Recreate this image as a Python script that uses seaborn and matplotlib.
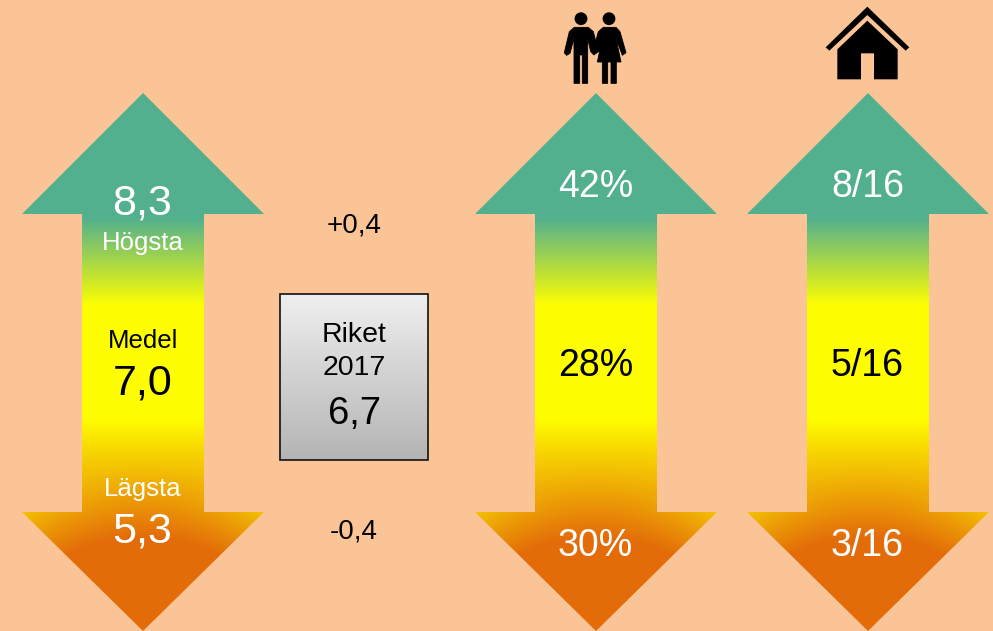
import numpy as np
import matplotlib
matplotlib.use("Agg")
import matplotlib.pyplot as plt
from matplotlib.patches import Polygon, Circle, Rectangle
import seaborn as sns

# --- data ---
high_values = ["8,3", "42%", "8/16"]
mid_values = ["7,0", "28%", "5/16"]
low_values = ["5,3", "30%", "3/16"]
row_labels = ["Högsta", "Medel", "Lägsta"]
national_title = ["Riket", "2017"]
national_value = "6,7"
national_diffs = ["+0,4", "-0,4"]

BG = "#FBC497"
GREEN, YELLOW, ORANGE = "#53B08E", "#FFFF00", "#E36C09"

sns.set_theme(style="white", rc={"figure.facecolor": BG, "axes.facecolor": BG})
plt.rcParams["font.family"] = ["Liberation Sans", "DejaVu Sans"]

W, H = 993, 631
fig = plt.figure(figsize=(W / 100, H / 100), dpi=100, facecolor=BG)
ax = fig.add_axes([0, 0, 1, 1])
ax.set_xlim(0, W)
ax.set_ylim(H, 0)
ax.axis("off")

cmap = sns.blend_palette([GREEN, YELLOW, ORANGE], n_colors=256, as_cmap=True)
grey = sns.blend_palette(["#EFEFEF", "#B4B4B4"], n_colors=256, as_cmap=True)


def arrow(cx):
    top, hb, lb, tip = 93, 214, 512, 631
    sw, hw = 61, 121
    pts = [(cx, top), (cx + hw, hb), (cx + sw, hb), (cx + sw, lb), (cx + hw, lb), (cx, tip),
           (cx - hw, lb), (cx - sw, lb), (cx - sw, hb), (cx - hw, hb)]
    xs = np.arange(cx - hw, cx + hw + 1)
    ys = np.arange(top, tip + 1)
    X, Y = np.meshgrid(xs, ys)
    d = np.abs(X - cx) / hw
    up = np.clip((Y - 218) / 88, 0, 1)
    shift = 45 * d ** 2 * np.clip((Y - 450) / 60, 0, 1)
    down = np.clip((Y - 418 - shift) / 120, 0, 1)
    t = 0.5 * up + 0.5 * down
    im = ax.imshow(t, cmap=cmap, vmin=0, vmax=1, aspect="auto", interpolation="bilinear",
                   extent=(cx - hw, cx + hw, tip, top), zorder=2)
    patch = Polygon(pts, closed=True, fc="none", ec="none", transform=ax.transData)
    ax.add_patch(patch)
    im.set_clip_path(patch)


centers = [143, 596, 868]
for c in centers:
    arrow(c)
ax.set_xlim(0, W)
ax.set_ylim(H, 0)


def txt(x, y, s, size, color="black"):
    ax.text(x, y, s, fontsize=size, color=color, ha="center", va="center", zorder=5)


# left arrow
txt(142.5, 203, high_values[0], 31, "white")
txt(143, 243, row_labels[0], 18.5, "white")
txt(143, 341, row_labels[1], 18.5)
txt(142.5, 383, mid_values[0], 31)
txt(143, 489, row_labels[2], 18.5, "white")
txt(142.5, 531, low_values[0], 31, "white")

# right arrows
for i, c in enumerate(centers[1:], start=1):
    txt(c - 0.5, 187, high_values[i], 27, "white")
    txt(c - 0.5, 366, mid_values[i], 27)
    txt(c - 0.5, 546, low_values[i], 27, "white")

# national box
g = np.linspace(0, 1, 200).reshape(-1, 1)
ax.imshow(g, cmap=grey, vmin=0, vmax=1, aspect="auto", extent=(280, 428, 460, 294), zorder=2)
ax.add_patch(Rectangle((280, 294), 148, 166, fc="none", ec="#111111", lw=1.2, zorder=3))
txt(354.5, 335, national_title[0], 20.5)
txt(354, 368, national_title[1], 20.5)
txt(354, 414, national_value, 27.5)
txt(354, 226, national_diffs[0], 20)
txt(354, 532, national_diffs[1], 20)


# icons (traced in 3x crop coordinates, origin x=540)
def z(p):
    return [(540 + a / 3, b / 3) for a, b in p]


man = [(103, 82), (145, 82), (160, 95), (174, 150), (162, 165), (152, 155), (143, 115), (143, 250),
       (127, 250), (127, 165), (119, 165), (119, 250), (102, 250), (102, 115), (90, 160), (80, 166),
       (73, 158), (88, 95)]
woman = [(190, 82), (228, 82), (240, 95), (258, 158), (247, 166), (228, 115), (243, 186), (229, 186),
         (229, 250), (213, 250), (213, 186), (203, 186), (203, 250), (187, 250), (187, 186), (172, 186),
         (187, 115), (176, 155), (165, 162), (160, 150), (175, 95)]
roof = [(982, 20), (857, 142), (868, 152), (982, 45), (1097, 152), (1108, 142)]
house = [(982, 62), (892, 148), (892, 238), (963, 238), (963, 160), (1002, 160), (1002, 238),
         (1073, 238), (1073, 148)]
for poly in (man, woman):
    ax.add_patch(Polygon(z(poly), closed=True, fc="black", ec="black", lw=0.6, zorder=4))
for poly in (roof, house):
    ax.add_patch(Polygon(z(poly), closed=True, fc="black", ec="none", zorder=4))
for hx in (581, 609):
    ax.add_patch(Circle((hx, 18.7), 6.4, fc="black", ec="none", zorder=4))

fig.savefig("out.png", dpi=100, facecolor=BG)
